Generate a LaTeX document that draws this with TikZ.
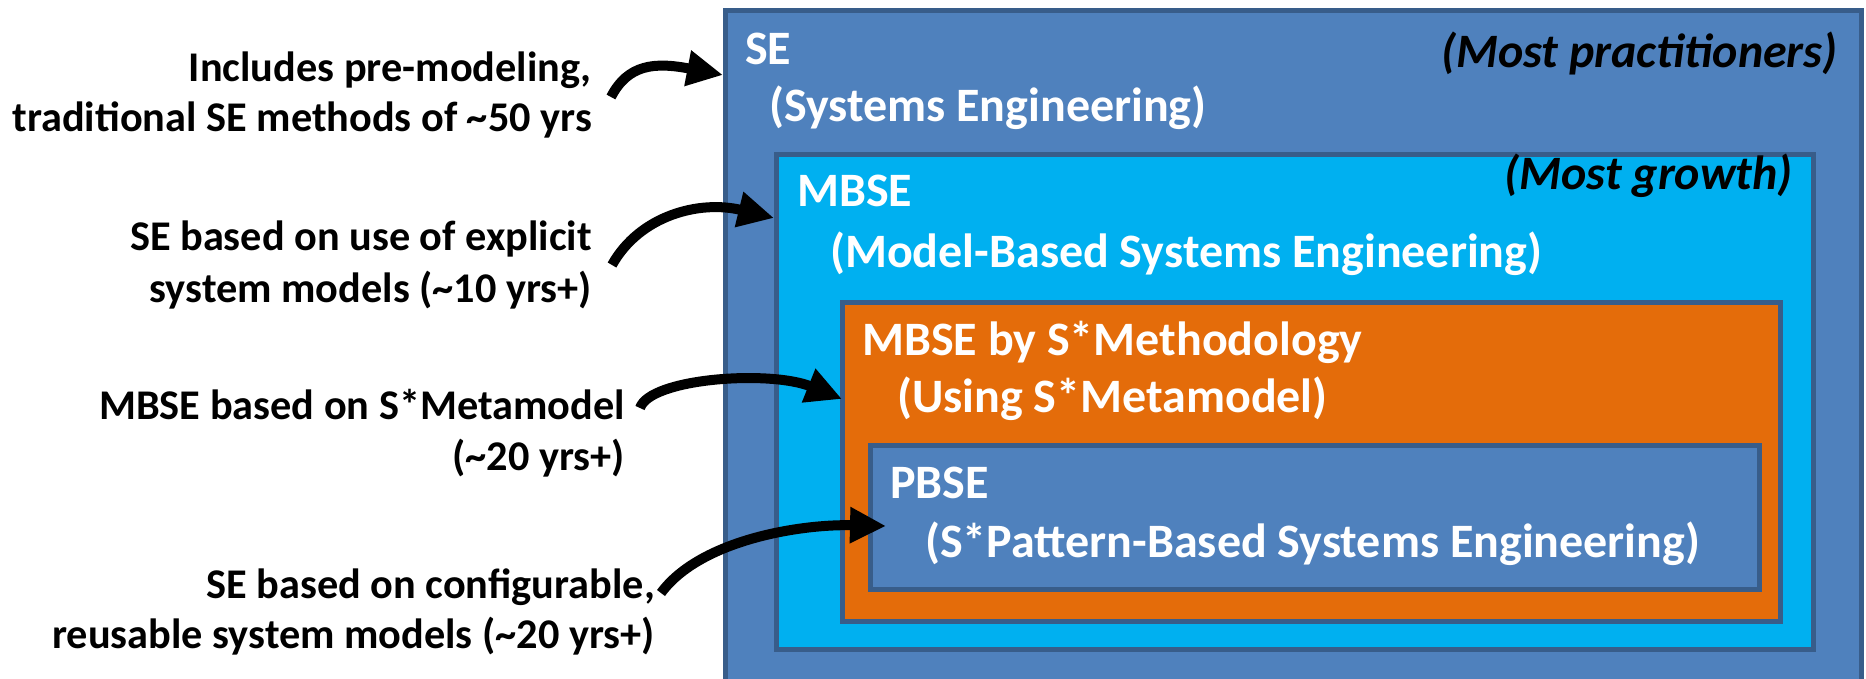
\documentclass[tikz,border=0pt]{standalone}
\usepackage{fontspec}
\setmainfont{Carlito}
\usetikzlibrary{arrows.meta}
\definecolor{seblue}{HTML}{4F81BD}
\definecolor{edgeblue}{HTML}{385D8A}
\definecolor{mbcyan}{HTML}{00B0F0}
\definecolor{meorange}{HTML}{E46C0A}

\begin{document}
\begin{tikzpicture}[x=1pt,y=-1pt,
  layer/.style={draw=edgeblue, line width=5pt, inner sep=0pt, outer sep=0pt, anchor=north west},
  boxtxt/.style={text=white, font=\fontsize{48}{58}\selectfont\bfseries, anchor=base west, inner sep=0pt},
  note/.style={font=\fontsize{48}{58}\selectfont\bfseries\itshape, anchor=base east, inner sep=0pt},
  lbl/.style={font=\fontsize{42.3}{50}\selectfont\bfseries, anchor=base east, inner sep=0pt},
  pointer/.style={line width=10pt, -{Triangle[length=36pt,width=34pt]}}
]
\useasboundingbox (0,0) rectangle (1866,679);
\fill[white] (0,0) rectangle (1866,679);
\clip (0,0) rectangle (1866,679);

% nested layers
\node[layer, fill=seblue,   minimum width=1136pt, minimum height=690pt] (se)   at (725,10.5) {};
\node[layer, fill=mbcyan,   minimum width=1037pt, minimum height=495pt] (mbse) at (776.5,154.5) {};
\node[layer, fill=meorange, minimum width=938pt,  minimum height=319pt] (meth) at (842.5,302.5) {};
\node[layer, fill=seblue,   minimum width=889.5pt,minimum height=144pt] (pbse) at (870,445.5) {};

% layer titles
\node[boxtxt] (se1) at (745,65)  {SE};
\node[boxtxt] (se2) at (769,122) {(Systems Engineering)};
\node[note]   (se3) at (1838,68) {(Most practitioners)};

\node[boxtxt] (mb1) at (797,207) {MBSE};
\node[boxtxt] (mb2) at (830,267) {(Model-Based Systems Engineering)};
\node[note]   (mb3) at (1793,190) {(Most growth)};

\node[boxtxt] (me1) at (862,355) {MBSE by S*Methodology};
\node[boxtxt] (me2) at (897,412) {(Using S*Metamodel)};

\node[boxtxt] (pb1) at (890,498) {PBSE};
\node[boxtxt] (pb2) at (925,557) {(S*Pattern-Based Systems Engineering)};

% explanatory labels
\node[lbl] (a1) at (592,82)  {Includes pre-modeling,};
\node[lbl] (a2) at (592,132) {traditional SE methods of \textasciitilde50 yrs};
\node[lbl] (b1) at (592,251) {SE based on use of explicit};
\node[lbl] (b2) at (592,302) {system models (\textasciitilde10 yrs+)};
\node[lbl] (c1) at (625,419) {MBSE based on S*Metamodel};
\node[lbl] (c2) at (625,470) {(\textasciitilde20 yrs+)};
\node[lbl] (d1) at (655,598) {SE based on configurable,};
\node[lbl] (d2) at (655,648) {reusable system models (\textasciitilde20 yrs+)};

% connector ends
\coordinate (s1) at (611,97);  \coordinate (t1) at (723,75);
\coordinate (s2) at (612,265); \coordinate (t2) at (774,218);
\coordinate (s3) at (640,408); \coordinate (t3) at (842,399);
\coordinate (s4) at (661,593); \coordinate (t4) at (886,526);

\draw[pointer] (s1) .. controls (628,64) and (655,62) .. (t1);
\draw[pointer] (s2) .. controls (640,215) and (700,200) .. (t2);
\draw[pointer] (s3) .. controls (650,378) and (770,370) .. (t3);
\draw[pointer] (s4) .. controls (700,540) and (800,524) .. (t4);
\end{tikzpicture}
\end{document}
